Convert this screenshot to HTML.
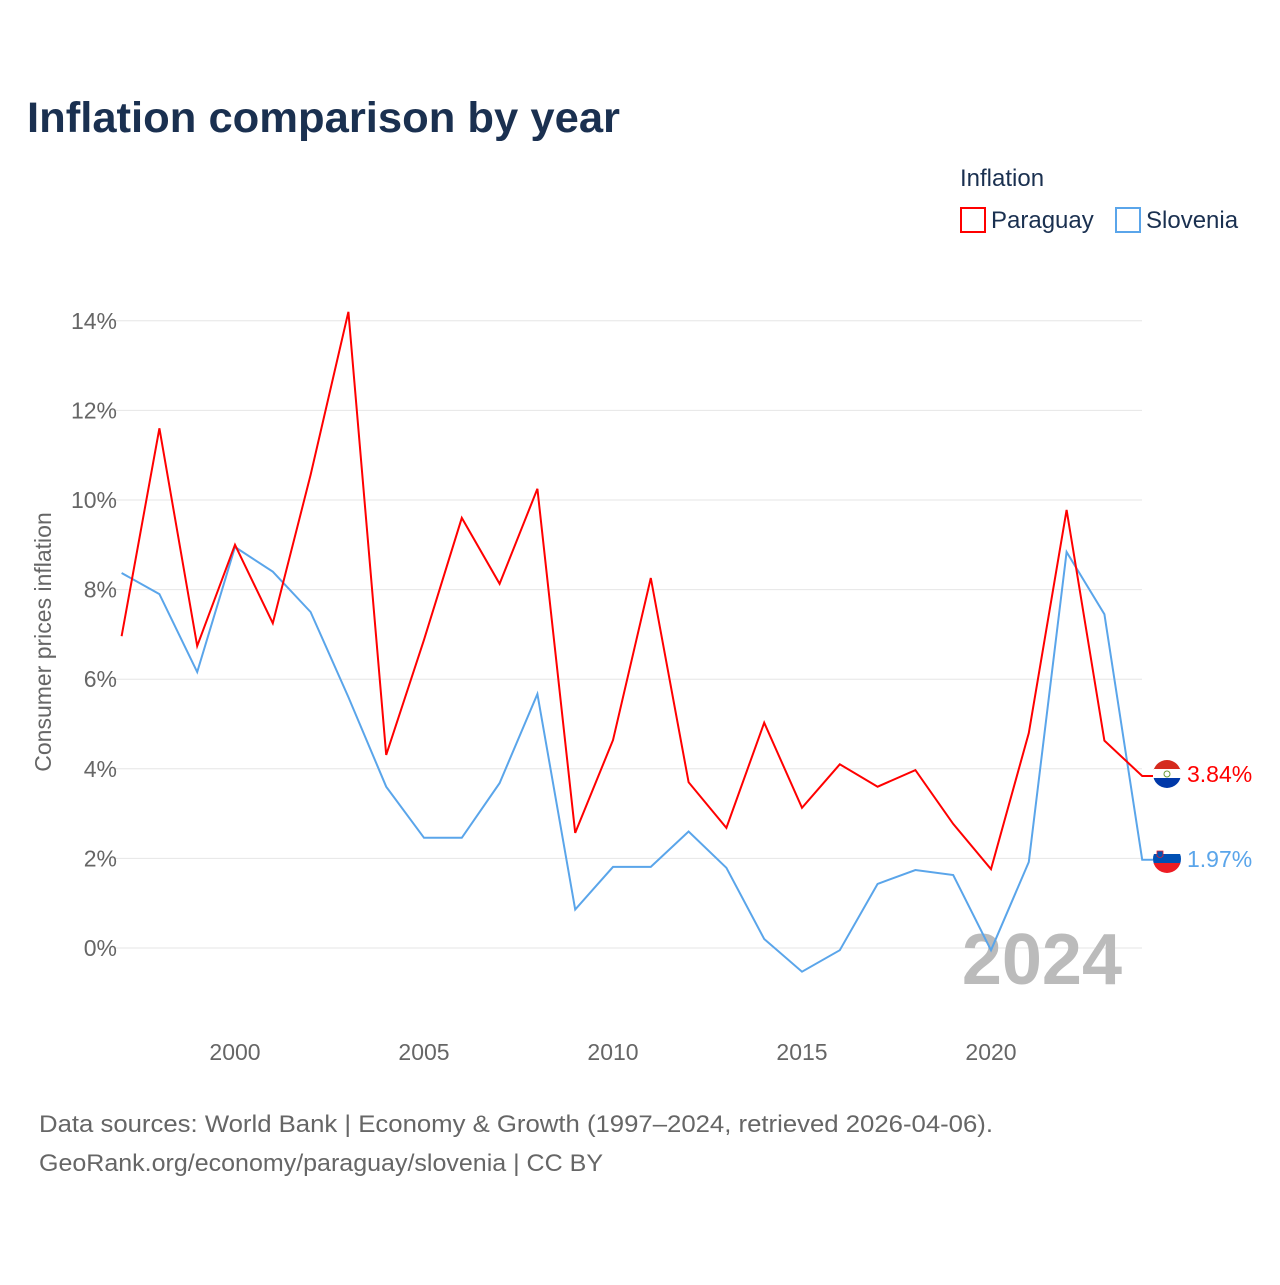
<!DOCTYPE html>
<html><head><meta charset="utf-8">
<style>
body{margin:0;background:#fff;font-family:"Liberation Sans",sans-serif;}
svg text{font-family:"Liberation Sans",sans-serif;}
</style></head>
<body>
<svg id="chart" width="1280" height="1280" viewBox="0 0 1280 1280" xmlns="http://www.w3.org/2000/svg">
<text x="27" y="132" font-size="43" font-weight="bold" fill="#1a3050" textLength="593" lengthAdjust="spacingAndGlyphs">Inflation comparison by year</text>
<text x="960" y="186" font-size="24" fill="#1a3050">Inflation</text>
<g>
<rect x="961" y="208" width="24" height="24" fill="none" stroke="#ff0000" stroke-width="2"/>
<text x="991" y="228" font-size="24" fill="#1a3050">Paraguay</text></g>
<g>
<rect x="1116" y="208" width="24" height="24" fill="none" stroke="#5aa5ea" stroke-width="2"/>
<text x="1146" y="228" font-size="24" fill="#1a3050">Slovenia</text></g>
<g id="grid"></g>
<g id="xticks"></g>
<text transform="translate(51,642) rotate(-90)" text-anchor="middle" font-size="23" fill="#666">Consumer prices inflation</text>
<text x="1122" y="984" text-anchor="end" font-size="72" font-weight="bold" fill="#bbb">2024</text>
<g id="series"></g>
<g>
<clipPath id="c1"><circle cx="1167" cy="774" r="14"/></clipPath>
<g clip-path="url(#c1)"><rect x="1153" y="760" width="28" height="10" fill="#d52b1e"/><rect x="1153" y="769" width="28" height="10" fill="#fff"/><rect x="1153" y="778" width="28" height="10" fill="#0038a8"/></g>
<circle cx="1167" cy="774" r="3" fill="none" stroke="#6a9a3a" stroke-width="1"/></g>
<g>
<clipPath id="c2"><circle cx="1167" cy="859" r="14"/></clipPath>
<g clip-path="url(#c2)"><rect x="1153" y="845" width="28" height="10" fill="#fff"/><rect x="1153" y="854" width="28" height="10" fill="#0050b4"/><rect x="1153" y="863" width="28" height="10" fill="#ed1c24"/></g>
<path d="M1157 851 h6 v5 q-3 3 -6 0z" fill="#0050b4" stroke="#ed1c24" stroke-width="0.8"/></g>
<text x="1187" y="782" font-size="23" fill="#ff0000">3.84%</text>
<text x="1187" y="867" font-size="23" fill="#5aa5ea">1.97%</text>
<text x="39" y="1132" font-size="24" fill="#666" textLength="954" lengthAdjust="spacingAndGlyphs">Data sources: World Bank | Economy &amp; Growth (1997–2024, retrieved 2026-04-06).</text>
<text x="39" y="1171" font-size="24" fill="#666" textLength="564" lengthAdjust="spacingAndGlyphs">GeoRank.org/economy/paraguay/slovenia | CC BY</text>
</svg>
<script>
const years=[1997,1998,1999,2000,2001,2002,2003,2004,2005,2006,2007,2008,2009,2010,2011,2012,2013,2014,2015,2016,2017,2018,2019,2020,2021,2022,2023,2024];
const paraguay=[6.96,11.6,6.74,9.0,7.25,10.56,14.2,4.31,6.88,9.6,8.13,10.25,2.57,4.64,8.26,3.7,2.68,5.03,3.13,4.1,3.6,3.97,2.77,1.76,4.8,9.78,4.63,3.84];
const slovenia=[8.37,7.9,6.16,8.95,8.4,7.5,5.6,3.6,2.46,2.46,3.68,5.67,0.86,1.81,1.81,2.6,1.79,0.2,-0.53,-0.05,1.43,1.74,1.63,-0.05,1.92,8.84,7.45,1.97];
const yTicks=[0,2,4,6,8,10,12,14];
const xTicks=[2000,2005,2010,2015,2020];
const NS="http://www.w3.org/2000/svg";
const X=y=>121.6+(y-1997)*37.8;
const Y=v=>948-v*44.8;
const grid=document.getElementById('grid');
yTicks.forEach(t=>{
 const l=document.createElementNS(NS,'line');
 
 
 l.setAttribute('x1',112);l.setAttribute('x2',1142);l.setAttribute('y1',Y(t));l.setAttribute('y2',Y(t));
 l.setAttribute('stroke','#e6e6e6');l.setAttribute('stroke-width',1);grid.appendChild(l);
 const tx=document.createElementNS(NS,'text');
 
 
 tx.setAttribute('x',117);tx.setAttribute('y',Y(t)+8);tx.setAttribute('text-anchor','end');
 tx.setAttribute('font-size',23);tx.setAttribute('fill','#666');tx.textContent=t+'%';grid.appendChild(tx);
});
const xt=document.getElementById('xticks');
xTicks.forEach(t=>{
 const tx=document.createElementNS(NS,'text');
 
 
 tx.setAttribute('x',X(t));tx.setAttribute('y',1060);tx.setAttribute('text-anchor','middle');
 tx.setAttribute('font-size',23);tx.setAttribute('fill','#666');tx.textContent=t;xt.appendChild(tx);
});
const sg=document.getElementById('series');
function line(vals,color,name){
 let d=vals.map((v,i)=>(i?'L':'M')+X(years[i]).toFixed(1)+' '+Y(v).toFixed(1)).join(' ');
 d+=' L1153 '+Y(vals[vals.length-1]).toFixed(1);
 const p=document.createElementNS(NS,'path');
 
 
 p.setAttribute('d',d);p.setAttribute('fill','none');p.setAttribute('stroke',color);p.setAttribute('stroke-width',2);
 sg.appendChild(p);
}
line(slovenia,'#5aa5ea','line-slovenia');
line(paraguay,'#ff0000','line-paraguay');
</script>
</body></html>
